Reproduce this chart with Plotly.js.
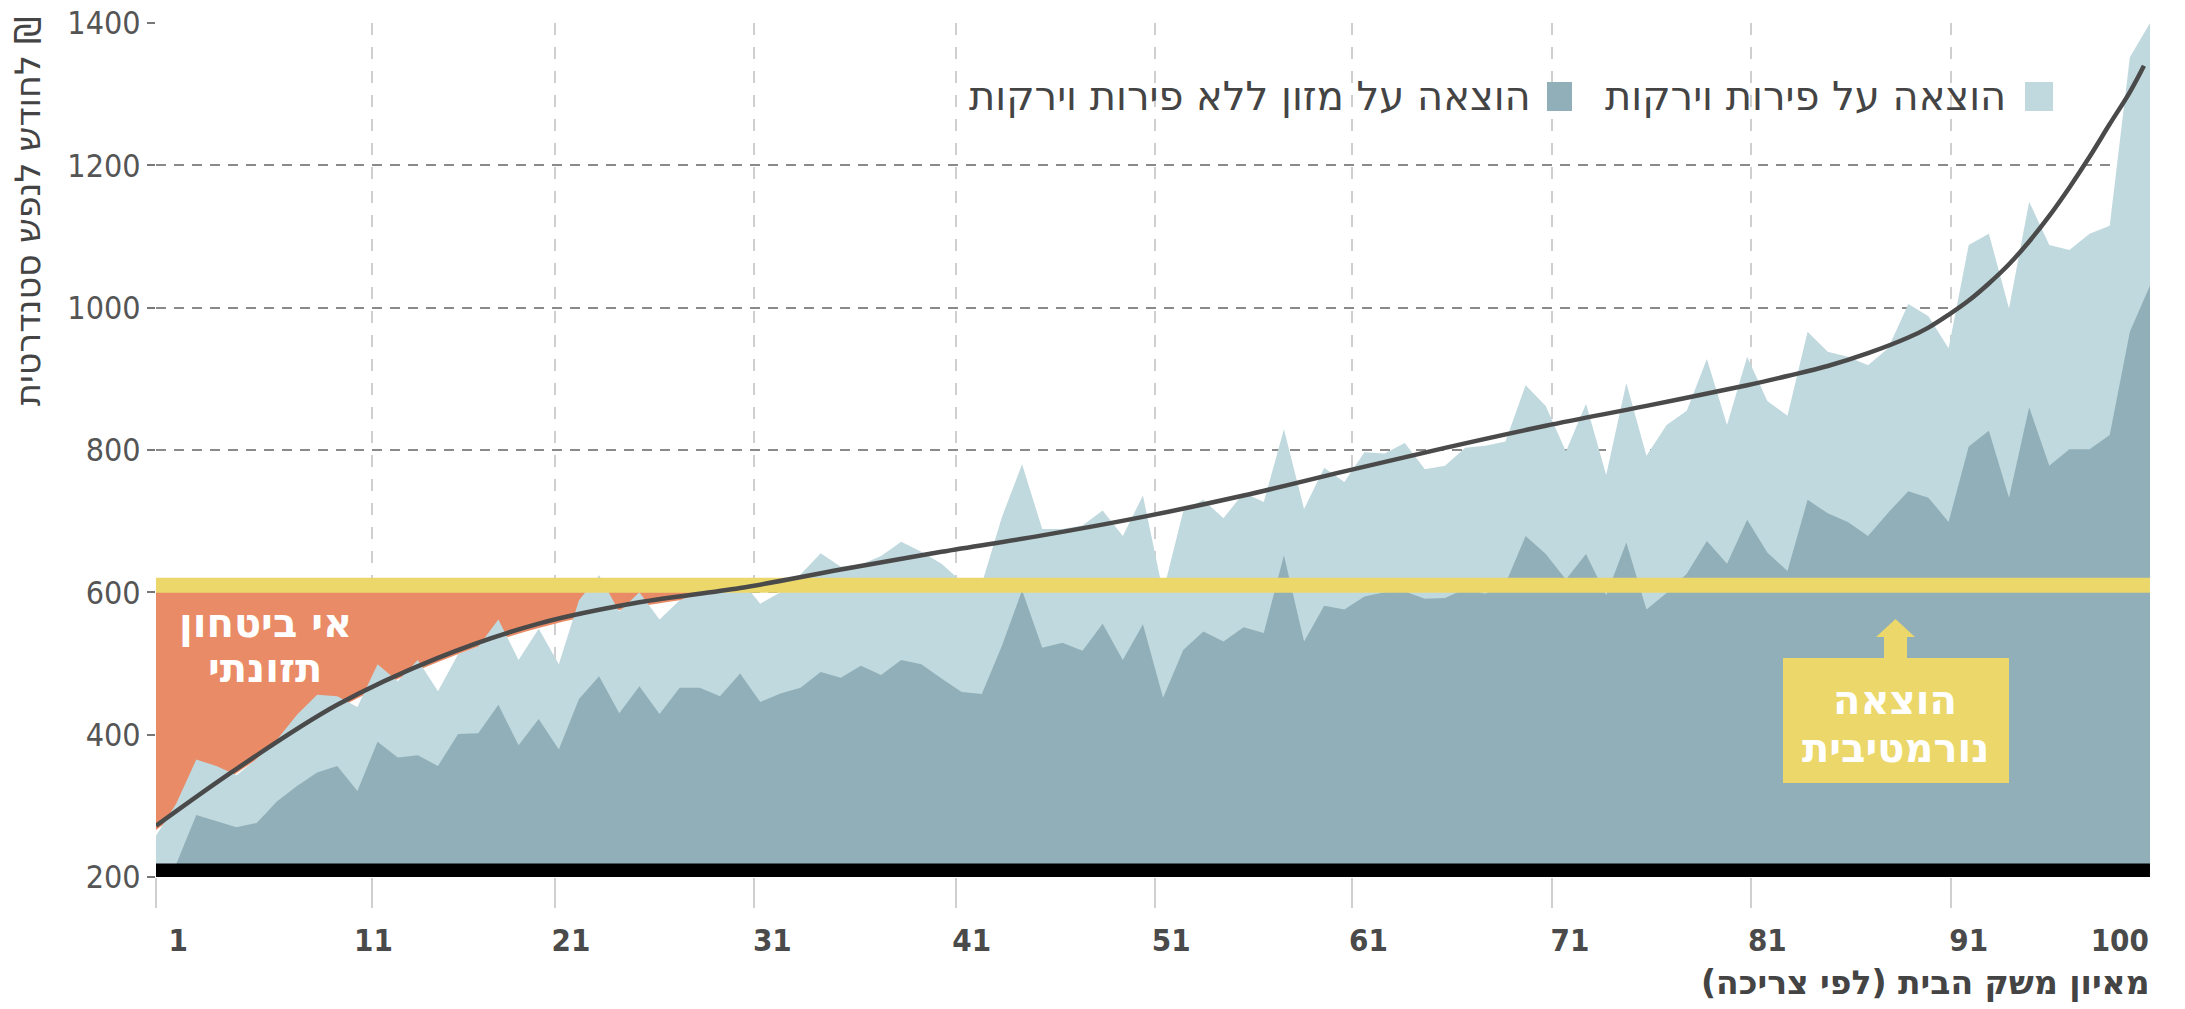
<!DOCTYPE html>
<html><head><meta charset="utf-8">
<script src="https://cdn.plot.ly/plotly-3.0.1.min.js"></script>
<style>html,body{margin:0;padding:0;background:#fff;} #chart{width:2185px;height:1009px;}</style>
</head><body><div id="chart"></div>
<script>
// ---- data ----
const percentiles = Array.from({length: 100}, (_, i) => i + 1);

// total food spending (top of light area)
const totalFood = [
  258, 303, 365, 356, 343, 366, 393, 428, 456, 454,
  439, 499, 475, 505, 461, 513, 524, 562, 505, 549,
  499, 589, 624, 573, 600, 562, 589, 600, 600, 619,
  584, 600, 625, 655, 636, 639, 651, 671, 657, 640,
  615, 612, 706, 780, 689, 689, 694, 715, 679, 736,
  600, 714, 730, 704, 740, 727, 829, 717, 775, 755,
  797, 795, 810, 773, 778, 803, 806, 812, 891, 862,
  798, 865, 765, 894, 792, 835, 855, 928, 835, 931,
  869, 848, 966, 938, 931, 919, 943, 1005, 988, 943,
  1088, 1104, 999, 1149, 1088, 1081, 1104, 1115, 1352, 1400
];

// food spending without fruit and vegetables (dark area)
const foodNoFruitVeg = [
  210, 218, 287, 278, 270, 276, 306, 328, 347, 356,
  321, 390, 368, 371, 356, 401, 402, 442, 385, 422,
  379, 450, 482, 430, 468, 429, 466, 466, 454, 486,
  446, 458, 466, 488, 480, 497, 484, 505, 499, 479,
  460, 457, 525, 603, 522, 529, 518, 556, 505, 555,
  452, 519, 545, 531, 551, 543, 652, 531, 581, 576,
  594, 600, 601, 591, 592, 605, 598, 612, 679, 654,
  618, 654, 596, 670, 576, 599, 626, 672, 640, 702,
  656, 630, 730, 711, 699, 679, 712, 742, 733, 699,
  805, 827, 733, 860, 778, 801, 801, 821, 966, 1031
];

// smooth trend line
const trendX = [1, 5, 10, 15, 20, 25, 30, 35, 40, 45, 50, 55, 60, 65, 70, 75, 80, 82, 84, 86, 88, 89, 90, 91, 92, 93, 94, 95, 96, 97, 98, 99, 99.7];
const trendY = [272, 352, 442, 508, 556, 586, 606, 632, 657, 680, 706, 736, 770, 803, 834, 862, 891, 904, 918, 936, 958, 972, 990, 1010, 1034, 1061, 1093, 1129, 1169, 1212, 1258, 1303, 1340];

const normativeSpending = 610;

// x axis: gridlines and labels sit at slightly different places in the original
const xGridPositions = [1, 11.7, 20.8, 30.7, 40.7, 50.6, 60.4, 70.3, 80.2, 90.1];
const xLabelPositions = [2.1, 11.8, 21.6, 31.6, 41.5, 51.4, 61.2, 71.2, 81.0, 91.0, 98.5];
const xTickText = ['1', '11', '21', '31', '41', '51', '61', '71', '81', '91', '100'];
const yTickVals = [200, 400, 600, 800, 1000, 1200, 1400];

const legendFruitVeg = 'הוצאה על פירות וירקות';
const legendNoFruitVeg = 'הוצאה על מזון ללא פירות וירקות';
const xTitle = 'מאיון משק הבית (לפי צריכה)\u200F';
const yTitle = 'לחודש לנפש סטנדרטית ₪';
const insecurityLines = ['אי ביטחון', 'תזונתי'];
const normativeLines = ['הוצאה', 'נורמטיבית'];

// ---- styling ----
const C_LIGHT = '#c0d9de', C_DARK = '#91afb8', C_ORANGE = '#e98b66', C_YELLOW = '#ecd76b', C_LINE = '#4a4a4a';
const HEB = 'DejaVu Sans, sans-serif';

// orange region: from just below the trend line up to the normative level
const orangeIdx = trendX.map((x, i) => i).filter(i => trendX[i] <= 30);
const orangeX = orangeIdx.map(i => trendX[i]);
const orangeY = orangeIdx.map(i => trendY[i] - 6);

const traces = [
  {x: orangeX, y: orangeY, mode: 'lines', line: {width: 0, shape: 'spline'}, hoverinfo: 'skip', showlegend: false},
  {x: [orangeX[0], orangeX[orangeX.length - 1]], y: [normativeSpending, normativeSpending], mode: 'lines',
   fill: 'tonexty', fillcolor: C_ORANGE, line: {width: 0}, hoverinfo: 'skip', showlegend: false},
  {x: percentiles, y: totalFood, name: legendFruitVeg, mode: 'lines', fill: 'tozeroy', fillcolor: C_LIGHT,
   line: {width: 0, color: C_LIGHT}, showlegend: false},
  {x: percentiles, y: foodNoFruitVeg, name: legendNoFruitVeg, mode: 'lines', fill: 'tozeroy', fillcolor: C_DARK,
   line: {width: 0, color: C_DARK}, showlegend: false},
  {x: [1, 100], y: [normativeSpending, normativeSpending], mode: 'lines', line: {color: C_YELLOW, width: 15},
   hoverinfo: 'skip', showlegend: false},
  {x: trendX, y: trendY, mode: 'lines', line: {color: C_LINE, width: 4.5, shape: 'spline'}, hoverinfo: 'skip', showlegend: false},
  // carrier for the label axis
  {x: [1, 100], y: [200, 200], xaxis: 'x2', yaxis: 'y', mode: 'lines', line: {width: 0}, hoverinfo: 'skip', showlegend: false}
];

// pixel helpers for layout placement (plot area 156..2150 x 23..877)
const L = 156, R = 35, T = 23, B = 132, W = 2185, H = 1009;
const pw = W - L - R, ph = H - T - B;
const px = p => (p - L) / pw;
const py = p => (H - B - p) / ph;

const shapes = [
  {type: 'rect', xref: 'x', yref: 'y', x0: 1, x1: 100, y0: 200, y1: 219, fillcolor: '#000', line: {width: 0}, layer: 'above'},
  // legend swatches
  {type: 'rect', xref: 'paper', yref: 'paper', x0: px(2025), x1: px(2053), y0: py(111), y1: py(82), fillcolor: C_LIGHT, line: {width: 0}},
  {type: 'rect', xref: 'paper', yref: 'paper', x0: px(1547), x1: px(1572), y0: py(111), y1: py(82), fillcolor: C_DARK, line: {width: 0}},
  // normative label box + arrow
  {type: 'rect', xref: 'paper', yref: 'paper', x0: px(1783), x1: px(2009), y0: py(783), y1: py(658), fillcolor: C_YELLOW, line: {width: 0}, layer: 'above'},
  {type: 'path', xref: 'paper', yref: 'paper', layer: 'above', fillcolor: C_YELLOW, line: {width: 0},
   path: `M ${px(1884)},${py(659)} L ${px(1884)},${py(637)} L ${px(1876)},${py(637)} L ${px(1895.5)},${py(619)} L ${px(1915)},${py(637)} L ${px(1907)},${py(637)} L ${px(1907)},${py(659)} Z`}
];

const annotations = [
  {xref: 'paper', yref: 'paper', x: px(2008), y: py(96), xanchor: 'right', yanchor: 'middle', showarrow: false,
   text: legendFruitVeg, font: {family: HEB, size: 40, color: '#444'}},
  {xref: 'paper', yref: 'paper', x: px(1533), y: py(96), xanchor: 'right', yanchor: 'middle', showarrow: false,
   text: legendNoFruitVeg, font: {family: HEB, size: 40, color: '#444'}},
  {xref: 'paper', yref: 'paper', x: px(265), y: py(623), xanchor: 'center', yanchor: 'middle', showarrow: false,
   text: insecurityLines[0], font: {family: HEB, size: 40, color: '#fff', weight: 'bold'}},
  {xref: 'paper', yref: 'paper', x: px(265), y: py(668), xanchor: 'center', yanchor: 'middle', showarrow: false,
   text: insecurityLines[1], font: {family: HEB, size: 40, color: '#fff', weight: 'bold'}},
  {xref: 'paper', yref: 'paper', x: px(1895), y: py(700), xanchor: 'center', yanchor: 'middle', showarrow: false,
   text: normativeLines[0], font: {family: HEB, size: 40, color: '#fff', weight: 'bold'}},
  {xref: 'paper', yref: 'paper', x: px(1895), y: py(748), xanchor: 'center', yanchor: 'middle', showarrow: false,
   text: normativeLines[1], font: {family: HEB, size: 40, color: '#fff', weight: 'bold'}},
  {xref: 'paper', yref: 'paper', x: px(2152), y: py(983), xanchor: 'right', yanchor: 'middle', showarrow: false,
   text: xTitle, font: {family: HEB, size: 33, color: '#444', weight: 'bold'}},
  {xref: 'paper', yref: 'paper', x: px(28), y: py(212), xanchor: 'center', yanchor: 'middle', showarrow: false, textangle: -90,
   text: yTitle, font: {family: HEB, size: 35, color: '#444'}}
];

const layout = {
  width: W, height: H,
  margin: {l: L, r: R, t: T, b: B, pad: 0},
  paper_bgcolor: '#fff', plot_bgcolor: '#fff',
  showlegend: false,
  xaxis: {
    range: [1, 100], tickvals: xGridPositions, showticklabels: false,
    showgrid: true, gridcolor: '#cfcfcf', gridwidth: 2, griddash: '12px,12px',
    ticks: 'outside', ticklen: 30, tickwidth: 2, tickcolor: '#d0d0d0',
    zeroline: false, showline: false, fixedrange: true
  },
  xaxis2: {
    overlaying: 'x', anchor: 'y', side: 'bottom',
    range: [1, 100], tickvals: xLabelPositions, ticktext: xTickText,
    showgrid: false, ticks: 'outside', ticklen: 30, tickcolor: 'rgba(0,0,0,0)',
    ticklabelstandoff: 6,
    tickfont: {family: 'DejaVu Sans Condensed, DejaVu Sans, sans-serif', size: 31, color: '#4a4a4a', weight: 'bold'},
    zeroline: false, showline: false, fixedrange: true
  },
  yaxis: {
    range: [200, 1400], tickvals: yTickVals,
    showgrid: true, gridcolor: '#8a8a8a', gridwidth: 2, griddash: '10px,8px',
    ticks: 'outside', ticklen: 8, tickwidth: 2, tickcolor: '#777',
    tickfont: {family: 'Liberation Sans Narrow, DejaVu Sans Condensed, sans-serif', size: 32, color: '#555'},
    zeroline: false, showline: false, fixedrange: true
  },
  shapes: shapes,
  annotations: annotations
};

Plotly.newPlot('chart', traces, layout, {displayModeBar: false, staticPlot: true});
</script>
</body></html>
